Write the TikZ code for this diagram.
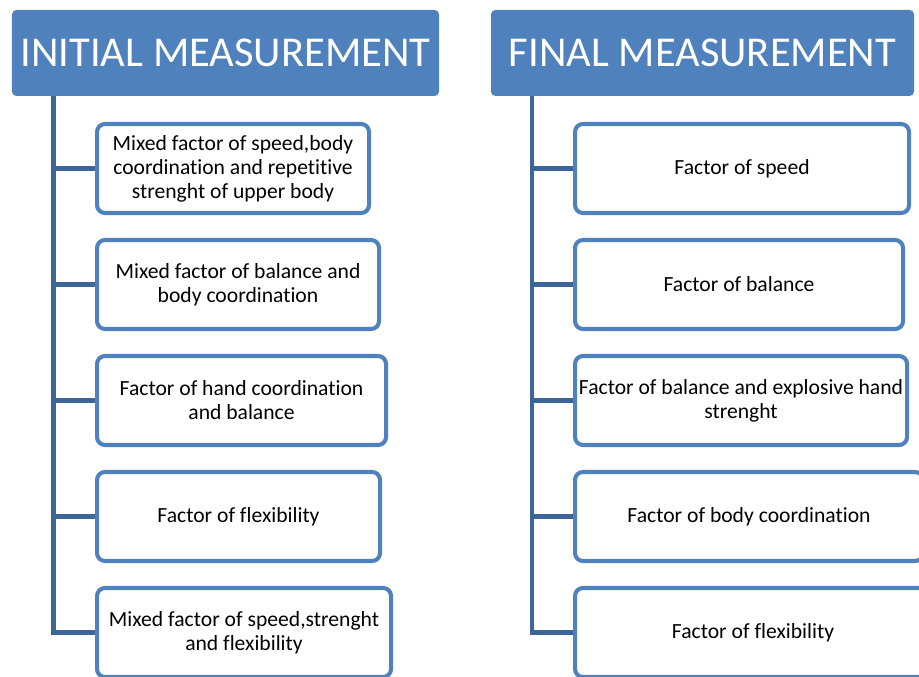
\documentclass[tikz,border=0pt]{standalone}
\usepackage{fontspec}
\setmainfont{Carlito}[Ligatures=NoCommon]
\usetikzlibrary{positioning}

\definecolor{hdrblue}{HTML}{4F81BD}
\definecolor{linkblue}{HTML}{3D6597}

\begin{document}
\begin{tikzpicture}[
	head/.style={
		rectangle,
		rounded corners=2.5pt,
		fill=hdrblue,
		text=white,
		minimum width=8.54cm,
		minimum height=1.72cm,
		align=center,
		inner sep=0pt,
		font=\fontsize{24.2}{28}\selectfont
	},
	item/.style={
		rectangle,
		rounded corners=4.5pt,
		draw=hdrblue,
		line width=2.3pt,
		fill=white,
		minimum height=1.78cm,
		anchor=west,
		align=center,
		inner sep=2pt,
		font=\fontsize{12.3}{13.7}\selectfont
	},
	spine/.style={line width=2.8pt, linkblue},
	branch/.style={line width=2.8pt, linkblue}
]
\useasboundingbox (0,0) rectangle (18.38,-13.54);

\node[head] (initial) at (4.51,-1.06) {INITIAL MEASUREMENT};
\node[head, minimum width=8.46cm] (final) at (14.05,-1.06) {FINAL MEASUREMENT};

\coordinate (itop) at (1.07,-1.92);
\coordinate (ftop) at (10.64,-1.92);

% left column
\node[item, minimum width=5.44cm] (imix) at (1.90,-3.37) {Mixed factor of speed,body\\coordination and repetitive\\strenght of upper body};
\node[item, minimum width=5.64cm] (ibal) at (1.90,-5.69) {Mixed factor of balance and\\body coordination};
\node[item, minimum width=5.78cm] (ihand) at (1.90,-8.01) {Factor of hand coordination\\and balance};
\node[item, minimum width=5.66cm] (iflex) at (1.90,-10.33) {Factor of flexibility};
\node[item, minimum width=5.88cm] (imixb) at (1.90,-12.65) {Mixed factor of speed,strenght\\and flexibility};

% right column
\node[item, minimum width=6.68cm] (fspeed) at (11.46,-3.37) {Factor of speed};
\node[item, minimum width=6.56cm] (fbal) at (11.46,-5.69) {Factor of balance};
\node[item, minimum width=6.64cm] (fexpl) at (11.46,-8.01) {Factor of balance and explosive hand\\strenght};
\node[item, minimum width=6.96cm] (fbody) at (11.46,-10.33) {Factor of body coordination};
\node[item, minimum width=7.12cm] (fflex) at (11.46,-12.65) {Factor of flexibility};

\draw[spine] (itop) |- (imixb.west);
\draw[branch] (itop |- imix.west) -- (imix.west);
\draw[branch] (itop |- ibal.west) -- (ibal.west);
\draw[branch] (itop |- ihand.west) -- (ihand.west);
\draw[branch] (itop |- iflex.west) -- (iflex.west);

\draw[spine] (ftop) |- (fflex.west);
\draw[branch] (ftop |- fspeed.west) -- (fspeed.west);
\draw[branch] (ftop |- fbal.west) -- (fbal.west);
\draw[branch] (ftop |- fexpl.west) -- (fexpl.west);
\draw[branch] (ftop |- fbody.west) -- (fbody.west);
\end{tikzpicture}
\end{document}
